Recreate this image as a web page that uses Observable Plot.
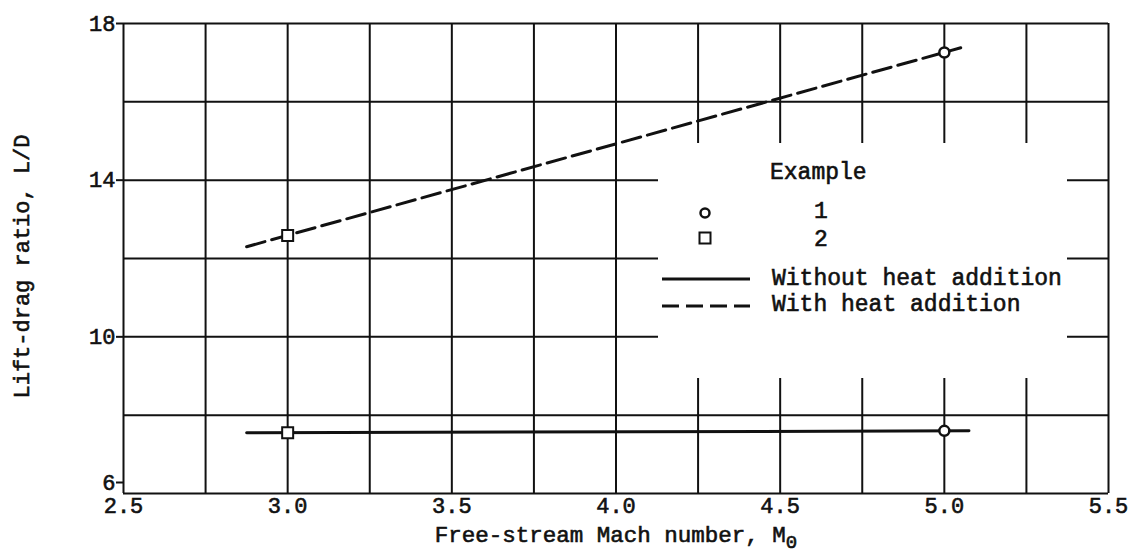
<!DOCTYPE html>
<html><head><meta charset="utf-8">
<script src="https://cdn.jsdelivr.net/npm/d3@7"></script>
<script src="https://cdn.jsdelivr.net/npm/@observablehq/plot@0.6"></script>
<style>
body{margin:0;background:#fff;}
#wrap{position:relative;width:1130px;height:555px;font-family:"Liberation Mono","Courier New",monospace;}
#wrap svg text{stroke:#111;stroke-width:0.6px;paint-order:fill;}
#legend{position:absolute;left:658px;top:143px;width:409px;height:235px;background:#fff;font-size:23px;color:#111;-webkit-text-stroke:0.6px #111;}
#legend span{position:absolute;line-height:23px;white-space:pre;}
#legend svg{position:absolute;left:0;top:0;overflow:visible;}
</style></head><body><div id="wrap"></div>
<script>
// ---- data ----
const machTicks = [2.5, 3.0, 3.5, 4.0, 4.5, 5.0, 5.5];
const machGrid = [2.5, 2.75, 3.0, 3.25, 3.5, 3.75, 4.0, 4.25, 4.5, 4.75, 5.0, 5.25, 5.5];
const ldTicks = [10, 14, 18];
const ldBottomTick = [6];
const ldGrid = [6, 8, 10, 12, 14, 16, 18];
const examples = ["1", "2"];
const exampleMach = [5.0, 3.0];
const withoutHeatLD = [7.6, 7.55];
const withHeatLD = [17.26, 12.59];
const withoutLineMach = [2.875, 5.075];
const withoutLineLD = [7.55, 7.6];
const withLineMach = [2.875, 5.05];
const withLineLD = [12.30, 17.38];
const seriesLabels = ["Without heat addition", "With heat addition"];
const xLabel = "Free-stream Mach number, M";
const xLabelSub = "0";
const yLabel = "Lift-drag ratio, L/D";

// ---- tables ----
const withoutLine = withoutLineMach.map((m, i) => ({m, ld: withoutLineLD[i]}));
const withLine = withLineMach.map((m, i) => ({m, ld: withLineLD[i]}));
const pts = [];
examples.forEach((ex, i) => {
  pts.push({ex, m: exampleMach[i], ld: withoutHeatLD[i]});
  pts.push({ex, m: exampleMach[i], ld: withHeatLD[i]});
});
const ink = "#111";

const chart = Plot.plot({
  width: 1130, height: 555,
  marginLeft: 123, marginRight: 22, marginTop: 23, marginBottom: 62,
  x: {domain: [2.5, 5.5], label: null},
  y: {domain: [6, 18], label: null},
  style: {fontFamily: '"Liberation Mono", "Courier New", monospace', fontSize: "22px", color: ink, background: "#fff"},
  marks: [
    Plot.ruleX(machGrid, {x: d => d, stroke: ink, strokeWidth: 2}),
    Plot.ruleY(ldGrid, {y: d => d, stroke: ink, strokeWidth: 2}),
    Plot.axisX(machTicks, {tickSize: 0, tickPadding: 4, tickFormat: d3.format(".1f"), fontSize: 22, label: null}),
    Plot.axisY(ldTicks, {tickSize: 7, tickPadding: 1, stroke: ink, strokeWidth: 2, fontSize: 22, label: null}),
    Plot.axisY(ldBottomTick, {tickSize: 7, tickPadding: 1, stroke: ink, strokeWidth: 2, fontSize: 22, dy: -11, label: null}),
    Plot.line(withoutLine, {x: "m", y: "ld", stroke: ink, strokeWidth: 3}),
    Plot.line(withLine, {x: "m", y: "ld", stroke: ink, strokeWidth: 3, strokeDasharray: "19,7"}),
    Plot.dot(pts.filter(d => d.ex === "1"), {x: "m", y: "ld", symbol: "circle", r: 5, fill: "#fff", stroke: ink, strokeWidth: 2.5}),
    Plot.dot(pts.filter(d => d.ex === "2"), {x: "m", y: "ld", symbol: "square", r: 6.2, fill: "#fff", stroke: ink, strokeWidth: 2}),
    Plot.text([xLabel + xLabelSub], {text: d => d, frameAnchor: "bottom", textAnchor: "middle", dy: 48, fontSize: 22.5, fill: ink}),
    Plot.text([yLabel], {text: d => d, frameAnchor: "left", textAnchor: "middle", lineAnchor: "middle", rotate: -90, dx: -102, dy: 8, fontSize: 22, fill: ink})
  ]
});

// subscript on the x label
d3.select(chart).selectAll("text").each(function () {
  if (this.textContent === xLabel + xLabelSub) {
    const t = d3.select(this);
    t.text(xLabel);
    t.append("tspan").attr("dy", "0.35em").attr("font-size", "19px").text(xLabelSub);
  }
});

const wrap = document.getElementById("wrap");
wrap.appendChild(chart);

// ---- legend (white box occluding the grid) ----
const legend = document.createElement("div");
legend.id = "legend";
legend.innerHTML = `
<svg width="409" height="235">
  <circle cx="47" cy="70" r="4.5" fill="#fff" stroke="${ink}" stroke-width="2.5"/>
  <rect x="41.5" y="89.5" width="11" height="11" fill="#fff" stroke="${ink}" stroke-width="2"/>
  <line x1="4" x2="92" y1="136" y2="136" stroke="${ink}" stroke-width="3"/>
  <line x1="4" x2="92" y1="163" y2="163" stroke="${ink}" stroke-width="3" stroke-dasharray="17,7"/>
</svg>`;
const spans = [
  ["Example", 112, 19],
  [examples[0], 156, 58],
  [examples[1], 156, 86],
  [seriesLabels[0], 114, 125],
  [seriesLabels[1], 114, 151]
];
for (const [txt, l, t] of spans) {
  const s = document.createElement("span");
  s.textContent = txt;
  s.style.left = l + "px";
  s.style.top = t + "px";
  legend.appendChild(s);
}
wrap.appendChild(legend);
</script>
</body></html>
